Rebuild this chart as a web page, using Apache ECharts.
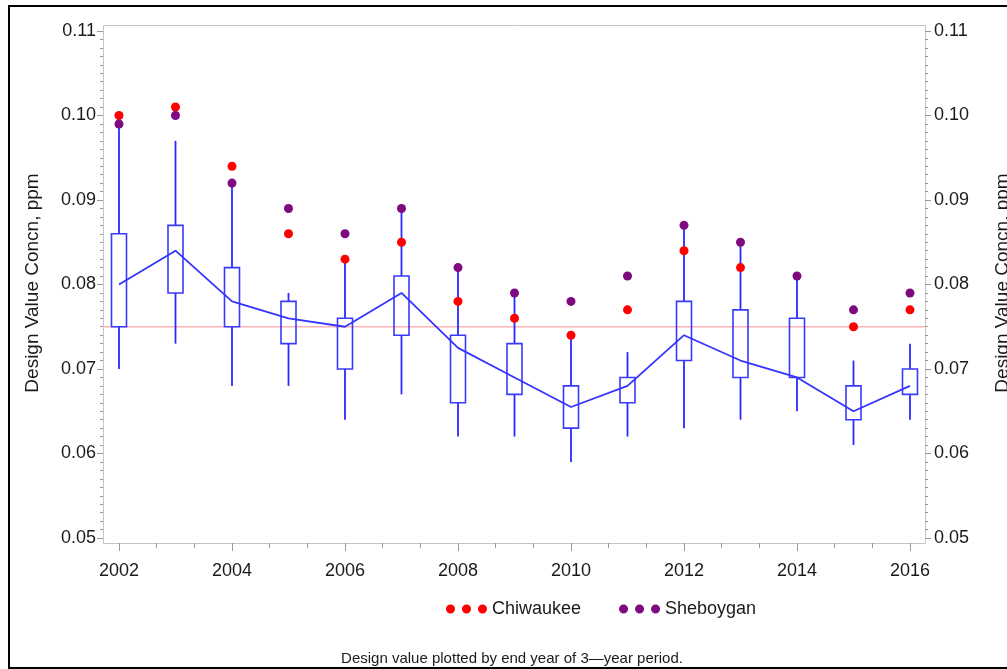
<!DOCTYPE html>
<html>
<head>
<meta charset="utf-8">
<script src="https://cdn.jsdelivr.net/npm/echarts@6/dist/echarts.min.js"></script>
<style>
  html, body { margin: 0; padding: 0; background: #fff; }
  #chart { width: 1007px; height: 669px; }
</style>
</head>
<body>
<div id="chart"></div>
<script>
// Ozone design values (ppm) by end year of each 3-year period
const years       = [2002, 2003, 2004, 2005, 2006, 2007, 2008, 2009, 2010, 2011, 2012, 2013, 2014, 2015, 2016];
const whiskerLow  = [0.070, 0.073, 0.068, 0.068, 0.064, 0.067, 0.062, 0.062, 0.059, 0.062, 0.063, 0.064, 0.065, 0.061, 0.064];
const boxLow      = [0.075, 0.079, 0.075, 0.073, 0.070, 0.074, 0.066, 0.067, 0.063, 0.066, 0.071, 0.069, 0.069, 0.064, 0.067];
const boxHigh     = [0.086, 0.087, 0.082, 0.078, 0.076, 0.081, 0.074, 0.073, 0.068, 0.069, 0.078, 0.077, 0.076, 0.068, 0.070];
const whiskerHigh = [0.099, 0.097, 0.092, 0.079, 0.083, 0.089, 0.082, 0.079, 0.074, 0.072, 0.087, 0.085, 0.081, 0.071, 0.073];
const trend       = [0.080, 0.084, 0.078, 0.076, 0.075, 0.079, 0.0725, 0.069, 0.0655, 0.068, 0.074, 0.071, 0.069, 0.065, 0.068];
const chiwaukee   = [0.100, 0.101, 0.094, 0.086, 0.083, 0.085, 0.078, 0.076, 0.074, 0.077, 0.084, 0.082, null, 0.075, 0.077];
const sheboygan   = [0.099, 0.100, 0.092, 0.089, 0.086, 0.089, 0.082, 0.079, 0.078, 0.081, 0.087, 0.085, 0.081, 0.077, 0.079];
const standard    = 0.075;
const yTicks      = [0.05, 0.06, 0.07, 0.08, 0.09, 0.10, 0.11];

const FONT = "'Liberation Sans', Arial, sans-serif";
const TEXT = '#1a1a1a';
const BLUE = '#2a2aff';

// grid spans the data range; the plot frame extends a little beyond it
const GRID = { left: 119, right: 97, top: 31, bottom: 131 };
const PAD  = { left: 16, right: 15, top: 6, bottom: 5 };
const W = 1007, H = 669;

const boxData = years.map((y, i) => [y, whiskerLow[i], boxLow[i], boxHigh[i], whiskerHigh[i]]);
const pair = arr => years.map((y, i) => [y, arr[i]]);

const dots = 'path://M0,4.5a4.5,4.5 0 1,0 9,0a4.5,4.5 0 1,0 -9,0z' +
             'M16,4.5a4.5,4.5 0 1,0 9,0a4.5,4.5 0 1,0 -9,0z' +
             'M32,4.5a4.5,4.5 0 1,0 9,0a4.5,4.5 0 1,0 -9,0z';

const yAxisBase = {
  type: 'value',
  min: yTicks[0],
  max: yTicks[yTicks.length - 1],
  interval: 0.01,
  axisLine: { show: false },
  axisTick: { show: true, length: 6, lineStyle: { color: '#9a9a9a' } },
  minorTick: { show: true, splitNumber: 10, length: 3, lineStyle: { color: '#9a9a9a' } },
  splitLine: { show: false },
  axisLabel: { fontFamily: FONT, fontSize: 18, color: TEXT, formatter: v => v.toFixed(2) }
};

const chart = echarts.init(document.getElementById('chart'), null, { renderer: 'canvas' });

chart.setOption({
  backgroundColor: '#fff',
  animation: false,
  grid: GRID,
  xAxis: {
    type: 'value',
    min: years[0],
    max: years[years.length - 1],
    interval: 2,
    offset: PAD.bottom,
    axisLine: { show: false },
    axisTick: { show: true, length: 8, lineStyle: { color: '#9a9a9a' } },
    minorTick: { show: true, splitNumber: 3, length: 5, lineStyle: { color: '#9a9a9a' } },
    splitLine: { show: false },
    axisLabel: { fontFamily: FONT, fontSize: 18, color: TEXT, margin: 19, formatter: v => String(v) }
  },
  yAxis: [
    Object.assign({}, yAxisBase, { position: 'left', offset: PAD.left,
      axisLabel: Object.assign({}, yAxisBase.axisLabel, { margin: 7 }) }),
    Object.assign({}, yAxisBase, { position: 'right', offset: PAD.right,
      axisLabel: Object.assign({}, yAxisBase.axisLabel, { margin: 9 }) })
  ],
  legend: {
    left: 441,
    top: 594,
    itemWidth: 41,
    itemHeight: 9,
    itemGap: 38,
    selectedMode: false,
    data: [
      { name: 'Chiwaukee', icon: dots },
      { name: 'Sheboygan', icon: dots }
    ],
    textStyle: { fontFamily: FONT, fontSize: 18, color: TEXT, lineHeight: 20 }
  },
  graphic: [
    // outer border
    { type: 'rect', z: 0, shape: { x: 9, y: 6, width: W + 10, height: H - 7 },
      style: { fill: 'none', stroke: '#000', lineWidth: 2 } },
    // plot frame
    { type: 'rect', z: 0,
      shape: { x: GRID.left - PAD.left + 0.5, y: GRID.top - PAD.top + 0.5,
               width: W - GRID.left - GRID.right + PAD.left + PAD.right,
               height: H - GRID.top - GRID.bottom + PAD.top + PAD.bottom },
      style: { fill: 'none', stroke: '#c4c4c4', lineWidth: 1 } },
    // axis titles
    { type: 'text', x: 33, y: 283, rotation: Math.PI / 2,
      style: { text: 'Design Value Concn, ppm', fontFamily: FONT, fontSize: 19, fill: TEXT,
               textAlign: 'center', textVerticalAlign: 'middle' } },
    { type: 'text', x: 1003, y: 283, rotation: Math.PI / 2,
      style: { text: 'Design Value Concn, ppm', fontFamily: FONT, fontSize: 19, fill: TEXT,
               textAlign: 'center', textVerticalAlign: 'middle' } },
    // footnote
    { type: 'text', x: 512, y: 659,
      style: { text: 'Design value plotted by end year of 3\u2014year period.', fontFamily: FONT,
               fontSize: 15, fill: TEXT, textAlign: 'center', textVerticalAlign: 'middle' } }
  ],
  series: [
    {
      // 0.075 ppm standard, drawn across the whole frame
      type: 'custom',
      z: 1,
      silent: true,
      data: [[years[0], standard]],
      encode: { x: 0, y: 1 },
      renderItem: (params, api) => {
        const cs = params.coordSys;
        const p = api.coord([api.value(0), api.value(1)]);
        return {
          type: 'line',
          shape: { x1: cs.x - PAD.left, y1: p[1], x2: cs.x + cs.width + PAD.right, y2: p[1] },
          style: { stroke: '#ffb4b4', lineWidth: 1.6 }
        };
      }
    },
    {
      // box and whiskers per year (no caps, no median bar)
      type: 'custom',
      z: 2,
      data: boxData,
      encode: { x: 0, y: [1, 2, 3, 4] },
      renderItem: (params, api) => {
        const x = api.value(0);
        const pLo = api.coord([x, api.value(1)]);
        const pQ1 = api.coord([x, api.value(2)]);
        const pQ3 = api.coord([x, api.value(3)]);
        const pHi = api.coord([x, api.value(4)]);
        const half = 7.5;
        const stroke = { stroke: BLUE, lineWidth: 1.8 };
        return {
          type: 'group',
          children: [
            { type: 'line', shape: { x1: pHi[0], y1: pHi[1], x2: pQ3[0], y2: pQ3[1] }, style: stroke },
            { type: 'line', shape: { x1: pQ1[0], y1: pQ1[1], x2: pLo[0], y2: pLo[1] }, style: stroke },
            { type: 'rect', shape: { x: pQ3[0] - half, y: pQ3[1], width: half * 2, height: pQ1[1] - pQ3[1] },
              style: { fill: 'none', stroke: '#3a3aff', lineWidth: 1.6 } }
          ]
        };
      }
    },
    {
      name: 'trend',
      type: 'line',
      z: 3,
      data: pair(trend),
      symbol: 'none',
      lineStyle: { color: '#3434ff', width: 1.8 },
      itemStyle: { color: '#3434ff' }
    },
    {
      name: 'Chiwaukee',
      type: 'scatter',
      z: 4,
      data: pair(chiwaukee),
      symbolSize: 9,
      itemStyle: { color: '#ff0000', opacity: 1 }
    },
    {
      name: 'Sheboygan',
      type: 'scatter',
      z: 4,
      data: pair(sheboygan),
      symbolSize: 9,
      itemStyle: { color: '#7f0a80', opacity: 1 }
    }
  ]
});
</script>
</body>
</html>
